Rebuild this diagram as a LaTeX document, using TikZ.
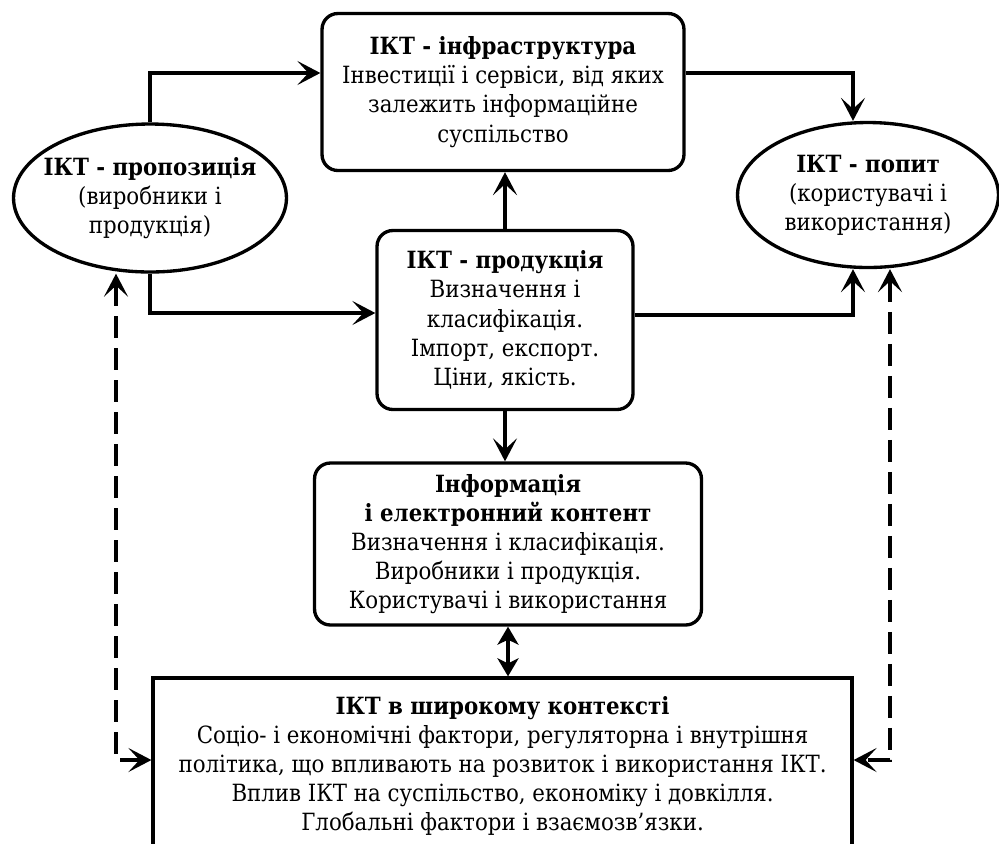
\documentclass[tikz,border=0pt]{standalone}
\usepackage{fontspec}
\setmainfont{DejaVu Serif Condensed}
\usetikzlibrary{positioning,shapes.geometric,arrows.meta}

\begin{document}
\begin{tikzpicture}[
      x=0.02cm, y=-0.02cm,
      line width=1.9pt,
      box/.style={draw, rounded corners=9pt, align=center, inner sep=2pt, font=\fontsize{13.5pt}{16.6pt}\selectfont},
      oval/.style={draw, ellipse, align=center, inner ysep=0pt, inner xsep=-0.4cm, font=\fontsize{13.5pt}{16.6pt}\selectfont},
      widebox/.style={draw, align=center, inner sep=2pt, font=\fontsize{13.5pt}{16.6pt}\selectfont},
      flow/.style={-{Stealth[length=0.46cm, width=0.48cm, inset=0.22cm]}},
      dflow/.style={{Stealth[length=0.46cm, width=0.48cm, inset=0.22cm]}-{Stealth[length=0.46cm, width=0.48cm, inset=0.22cm]}, dash pattern=on 0.44cm off 0.2cm},
      bflow/.style={{Stealth[length=0.36cm, width=0.42cm, inset=0.1cm]}-{Stealth[length=0.36cm, width=0.42cm, inset=0.1cm]}}
    ]
    \useasboundingbox (0,0) rectangle (999,843);
    \clip (0,0) rectangle (999,843);

    % Nodes
    \node[box, minimum width=7.24cm, minimum height=3.14cm] (infra) at (503,92)
      {\textbf{ІКТ - інфраструктура}\\Інвестиції і сервіси, від яких\\залежить інформаційне\\суспільство};

    \node[oval, minimum width=5.46cm, minimum height=2.96cm] (prop) at (150,198)
      {\textbf{ІКТ - пропозиція}\\(виробники і\\продукція)};

    \node[oval, minimum width=5.22cm, minimum height=2.9cm] (dem) at (868,195)
      {\textbf{ІКТ - попит}\\(користувачі і\\використання)};

    \node[box, minimum width=5.12cm, minimum height=3.58cm] (prod) at (505,320)
      {\textbf{ІКТ - продукція}\\Визначення і\\класифікація.\\Імпорт, експорт.\\Ціни, якість.};

    \node[box, minimum width=7.74cm, minimum height=3.24cm] (info) at (508,544)
      {\textbf{Інформація}\\\textbf{і електронний контент}\\Визначення і класифікація.\\Виробники і продукція.\\Користувачі і використання};

    \node[widebox, minimum width=13.98cm, minimum height=3.52cm] (ctx) at (502.5,766)
      {\textbf{ІКТ в широкому контексті}\\Соціо- і економічні фактори, регуляторна і внутрішня\\політика, що впливають на розвиток і використання ІКТ.\\Вплив ІКТ на суспільство, економіку і довкілля.\\Глобальні фактори і взаємозв’язки.};

    % Arrows
    \draw[flow] (prop.north) |- (infra.west |- 0,73);
    \draw[flow] (prop.south) |- (prod.west |- 0,313);
    \draw[flow] (infra.east |- 0,73) -| ([xshift=-0.3cm]dem.north);
    \draw[flow] (prod.east |- 0,315) -| ([xshift=-0.3cm]dem.south);
    \draw[flow] (prod.north) -- (prod.north |- infra.south);
    \draw[flow] (prod.south) -- (prod.south |- info.north);
    \draw[bflow] (info.south) -- (info.south |- ctx.north);
    \draw[dflow] ([xshift=-0.68cm]prop.south) |- ([yshift=0.12cm]ctx.west);
    \draw[dflow] ([xshift=0.44cm]dem.south) |- ([yshift=0.12cm]ctx.east);

  \end{tikzpicture}
\end{document}
